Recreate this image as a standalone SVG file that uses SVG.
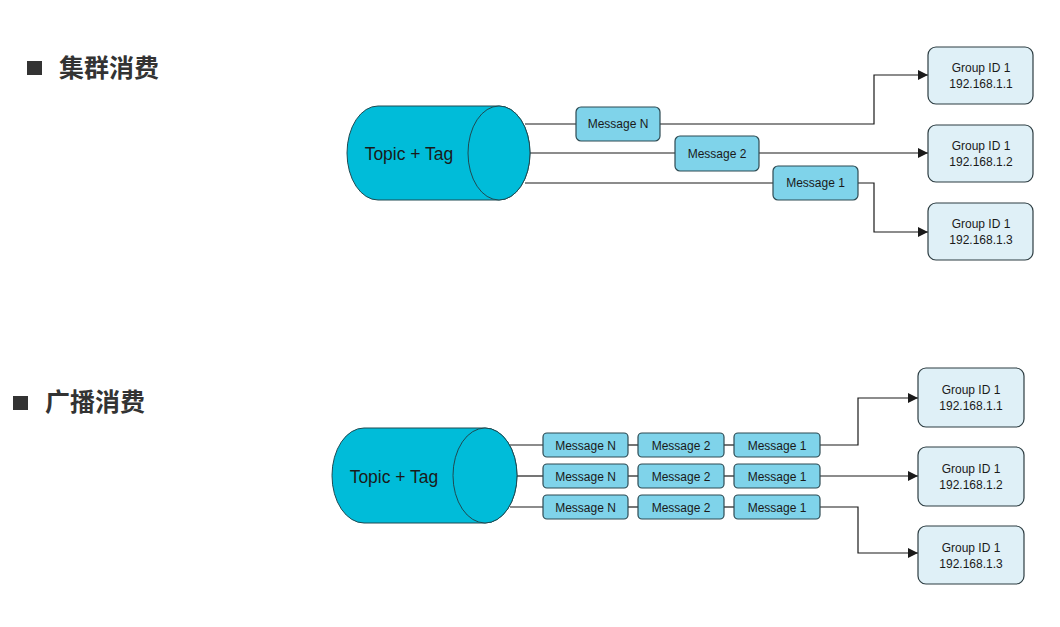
<svg xmlns="http://www.w3.org/2000/svg" width="1060" height="627" viewBox="0 0 1060 627">
<defs>
<style>
.title{font-family:"Liberation Sans","Noto Sans CJK SC",sans-serif;font-weight:bold;font-size:25px;fill:#333333}
.cyl{fill:#00bcd9;stroke:#1f4a52;stroke-width:1}
.cyltxt{font-family:"Liberation Sans",Arial,sans-serif;font-size:17.5px;fill:#1a1a1a;text-anchor:middle;dominant-baseline:central}
.msg{fill:#7fd3ea;stroke:#2d4a52;stroke-width:1.2}
.msgtxt{font-family:"Liberation Sans",Arial,sans-serif;font-size:12px;fill:#1a1a1a;text-anchor:middle;dominant-baseline:central}
.grp{fill:#dff0f7;stroke:#2d3d42;stroke-width:1.2}
.grptxt{font-family:"Liberation Sans",Arial,sans-serif;font-size:12px;fill:#1a1a1a;text-anchor:middle}
.ln{fill:none;stroke:#1a1a1a;stroke-width:1.2}
.arr{fill:none;stroke:#1a1a1a;stroke-width:1.2;marker-end:url(#ah)}
</style>
<marker id="ah" viewBox="0 0 10 10" refX="10" refY="5" markerWidth="10" markerHeight="10" markerUnits="userSpaceOnUse" orient="auto">
<path d="M0,0 L10,5 L0,10 Z" fill="#1a1a1a"/>
</marker>
</defs>
<rect width="1060" height="627" fill="#ffffff"/>

<g id="title1">
<rect x="27" y="61" width="15" height="14" fill="#333333"/>
<text class="title" x="59" y="77">集群消费</text>
</g>
<g id="title2">
<rect x="13" y="396" width="15" height="14" fill="#333333"/>
<text class="title" x="45" y="411">广播消费</text>
</g>

<g id="connectors">
<!-- top -->
<line class="ln" x1="525" y1="124" x2="576" y2="124"/>
<polyline class="arr" points="660,124 874,124 874,75 928,75"/>
<line class="ln" x1="528" y1="153" x2="675" y2="153"/>
<polyline class="arr" points="759,153 928,153"/>
<line class="ln" x1="525" y1="183" x2="773" y2="183"/>
<polyline class="arr" points="858,183 874,183 874,232 928,232"/>
<!-- bottom -->
<line class="ln" x1="510" y1="445" x2="543" y2="445"/>
<line class="ln" x1="628" y1="445" x2="638" y2="445"/>
<line class="ln" x1="724" y1="445" x2="734" y2="445"/>
<polyline class="arr" points="820,445 858,445 858,398 918,398"/>
<line class="ln" x1="516" y1="476" x2="543" y2="476"/>
<line class="ln" x1="628" y1="476" x2="638" y2="476"/>
<line class="ln" x1="724" y1="476" x2="734" y2="476"/>
<polyline class="arr" points="820,476 918,476"/>
<line class="ln" x1="510" y1="507" x2="543" y2="507"/>
<line class="ln" x1="628" y1="507" x2="638" y2="507"/>
<line class="ln" x1="724" y1="507" x2="734" y2="507"/>
<polyline class="arr" points="820,507 858,507 858,553 918,553"/>
</g>

<g id="topic1">
<path class="cyl" d="M378,106 L499,106 A31,47 0 0 1 499,200 L378,200 A31,47 0 0 1 378,106 Z"/>
<ellipse class="cyl" cx="499" cy="153" rx="31" ry="47"/>
<text class="cyltxt" x="409" y="154">Topic + Tag</text>
</g>

<g id="t-msgN"><rect class="msg" x="576" y="107" width="84" height="34" rx="5"/><text class="msgtxt" x="618" y="124">Message N</text></g>
<g id="t-msg2"><rect class="msg" x="675" y="136" width="84" height="35" rx="5"/><text class="msgtxt" x="717" y="153.5">Message 2</text></g>
<g id="t-msg1"><rect class="msg" x="773" y="166" width="85" height="34" rx="5"/><text class="msgtxt" x="815.5" y="183">Message 1</text></g>

<g id="t-grp1"><rect class="grp" x="928" y="47" width="105" height="57" rx="8"/><text class="grptxt" x="981" y="72">Group ID 1</text><text class="grptxt" x="981" y="88">192.168.1.1</text></g>
<g id="t-grp2"><rect class="grp" x="928" y="125" width="105" height="57" rx="8"/><text class="grptxt" x="981" y="150">Group ID 1</text><text class="grptxt" x="981" y="166">192.168.1.2</text></g>
<g id="t-grp3"><rect class="grp" x="928" y="203" width="105" height="57" rx="8"/><text class="grptxt" x="981" y="228">Group ID 1</text><text class="grptxt" x="981" y="244">192.168.1.3</text></g>

<g id="topic2">
<path class="cyl" d="M364,428 L485,428 A32,47.5 0 0 1 485,523 L364,523 A32,47.5 0 0 1 364,428 Z"/>
<ellipse class="cyl" cx="485" cy="475.5" rx="32" ry="47.5"/>
<text class="cyltxt" x="394" y="477">Topic + Tag</text>
</g>

<g id="b-r1-msgN"><rect class="msg" x="543" y="433" width="85" height="24" rx="4"/><text class="msgtxt" x="585.5" y="445.5">Message N</text></g>
<g id="b-r1-msg2"><rect class="msg" x="638" y="433" width="86" height="24" rx="4"/><text class="msgtxt" x="681" y="445.5">Message 2</text></g>
<g id="b-r1-msg1"><rect class="msg" x="734" y="433" width="86" height="24" rx="4"/><text class="msgtxt" x="777" y="445.5">Message 1</text></g>
<g id="b-r2-msgN"><rect class="msg" x="543" y="464" width="85" height="24" rx="4"/><text class="msgtxt" x="585.5" y="476.5">Message N</text></g>
<g id="b-r2-msg2"><rect class="msg" x="638" y="464" width="86" height="24" rx="4"/><text class="msgtxt" x="681" y="476.5">Message 2</text></g>
<g id="b-r2-msg1"><rect class="msg" x="734" y="464" width="86" height="24" rx="4"/><text class="msgtxt" x="777" y="476.5">Message 1</text></g>
<g id="b-r3-msgN"><rect class="msg" x="543" y="495" width="85" height="24" rx="4"/><text class="msgtxt" x="585.5" y="507.5">Message N</text></g>
<g id="b-r3-msg2"><rect class="msg" x="638" y="495" width="86" height="24" rx="4"/><text class="msgtxt" x="681" y="507.5">Message 2</text></g>
<g id="b-r3-msg1"><rect class="msg" x="734" y="495" width="86" height="24" rx="4"/><text class="msgtxt" x="777" y="507.5">Message 1</text></g>

<g id="b-grp1"><rect class="grp" x="918" y="368" width="106" height="59" rx="8"/><text class="grptxt" x="971" y="394">Group ID 1</text><text class="grptxt" x="971" y="410">192.168.1.1</text></g>
<g id="b-grp2"><rect class="grp" x="918" y="447" width="106" height="59" rx="8"/><text class="grptxt" x="971" y="473">Group ID 1</text><text class="grptxt" x="971" y="489">192.168.1.2</text></g>
<g id="b-grp3"><rect class="grp" x="918" y="526" width="106" height="58" rx="8"/><text class="grptxt" x="971" y="552">Group ID 1</text><text class="grptxt" x="971" y="568">192.168.1.3</text></g>
</svg>
